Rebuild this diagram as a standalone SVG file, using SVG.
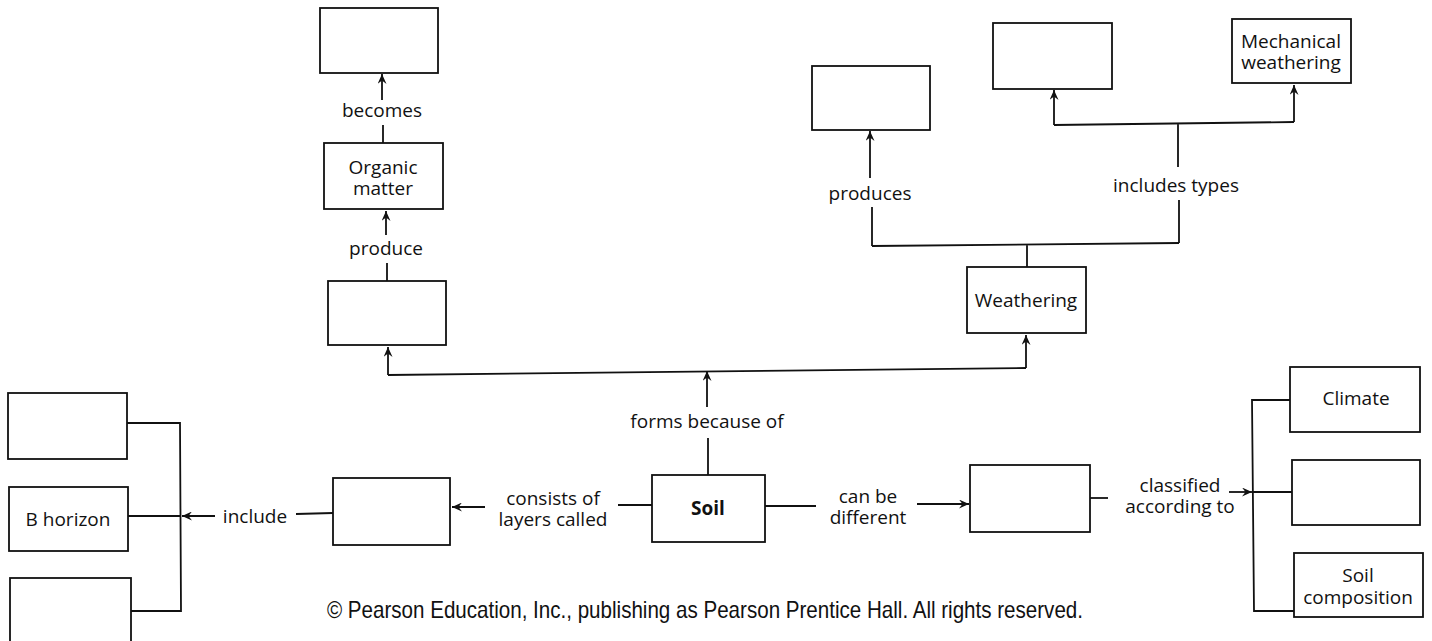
<svg xmlns="http://www.w3.org/2000/svg" width="1432" height="641" viewBox="0 0 1432 641">
<style>
.box{fill:#fff;stroke:#111;stroke-width:1.8}
.ln{fill:none;stroke:#111;stroke-width:1.8}
.ar{fill:none;stroke:#111;stroke-width:1.8;marker-end:url(#ah)}
text{font-family:"Open Sans","Noto Sans","DejaVu Sans",sans-serif;font-size:19px;fill:#111;text-anchor:middle}
.b{font-weight:bold}
.cp{font-family:"Liberation Sans",Arial,sans-serif;font-size:24px}
</style>
<defs>
<marker id="ah" markerUnits="userSpaceOnUse" markerWidth="11" markerHeight="9" refX="10" refY="4.5" orient="auto" viewBox="0 0 11 9">
<path d="M0,0 L10,4.5 L0,9 L3.5,4.5 Z" fill="#111"/>
</marker>
</defs>
<rect width="1432" height="641" fill="#fff"/>
<g id="connectors">
<path class="ln" d="M383,143 L383,125"/>
<path class="ar" d="M382,100 L382,74"/>
<path class="ln" d="M387,281 L387,263"/>
<path class="ar" d="M386,235 L386,211"/>
<path class="ln" d="M388,375 L1026,368"/>
<path class="ar" d="M388,375 L388,347"/>
<path class="ar" d="M1026,368 L1026,335"/>
<path class="ar" d="M707,407 L707,371"/>
<path class="ln" d="M708,438 L708,475"/>
<path class="ln" d="M1027,267 L1027,245 M872,246 L1179,243"/>
<path class="ln" d="M872,246 L872,207"/>
<path class="ar" d="M870,178 L870,131"/>
<path class="ln" d="M1179,243 L1179,200"/>
<path class="ln" d="M1178,167 L1178,124 M1054,125 L1294,122"/>
<path class="ar" d="M1054,125 L1054,90"/>
<path class="ar" d="M1294,122 L1294,85"/>
<path class="ln" d="M652,505 L618,505"/>
<path class="ar" d="M485,507 L452,507"/>
<path class="ln" d="M333,513 L296,514"/>
<path class="ar" d="M215,516 L182,516"/>
<path class="ln" d="M127,423 L180,423 L181,611 L131,611 M128,516 L181,516"/>
<path class="ln" d="M765,506 L816,506"/>
<path class="ar" d="M917,504 L969,504"/>
<path class="ln" d="M1090,498 L1108,498"/>
<path class="ar" d="M1229,492 L1252,492"/>
<path class="ln" d="M1290,400 L1252,400 L1254,611 L1294,611 M1252,492 L1292,492"/>
</g>
<g id="labels">
<text x="382" y="117">becomes</text>
<text x="386" y="255">produce</text>
<text x="707" y="428">forms because of</text>
<text x="870" y="200">produces</text>
<text x="1176" y="192">includes types</text>
<text x="553" y="505">consists of<tspan x="553" dy="21">layers called</tspan></text>
<text x="255" y="523">include</text>
<text x="868" y="503">can be<tspan x="868" dy="21">different</tspan></text>
<text x="1180" y="492">classified<tspan x="1180" dy="21">according to</tspan></text>
</g>
<g id="n_top_left"><rect class="box" x="320" y="8" width="118" height="65"/></g>
<g id="n_organic"><rect class="box" x="324" y="143" width="119" height="66"/><text x="383" y="174">Organic<tspan x="383" dy="21">matter</tspan></text></g>
<g id="n_source"><rect class="box" x="328" y="281" width="118" height="64"/></g>
<g id="n_weathering"><rect class="box" x="967" y="267" width="119" height="66"/><text x="1026" y="307">Weathering</text></g>
<g id="n_product"><rect class="box" x="812" y="66" width="118" height="64"/></g>
<g id="n_type1"><rect class="box" x="993" y="23" width="119" height="66"/></g>
<g id="n_mech"><rect class="box" x="1232" y="19" width="119" height="64"/><text x="1291" y="48">Mechanical<tspan x="1291" dy="21">weathering</tspan></text></g>
<g id="n_soil"><rect class="box" x="652" y="475" width="113" height="67"/><text class="b" x="708" y="515">Soil</text></g>
<g id="n_layers"><rect class="box" x="333" y="478" width="117" height="67"/></g>
<g id="n_hz1"><rect class="box" x="8" y="393" width="119" height="66"/></g>
<g id="n_bhz"><rect class="box" x="9" y="487" width="119" height="64"/><text x="68" y="526">B horizon</text></g>
<g id="n_hz3"><rect class="box" x="10" y="578" width="121" height="72"/></g>
<g id="n_diff"><rect class="box" x="970" y="465" width="120" height="67"/></g>
<g id="n_climate"><rect class="box" x="1290" y="367" width="130" height="65"/><text x="1356" y="405">Climate</text></g>
<g id="n_factor2"><rect class="box" x="1292" y="460" width="128" height="65"/></g>
<g id="n_soilcomp"><rect class="box" x="1294" y="553" width="129" height="64"/><text x="1358" y="582">Soil<tspan x="1358" dy="22">composition</tspan></text></g>
<text class="cp" x="705" y="618" textLength="756" lengthAdjust="spacingAndGlyphs">© Pearson Education, Inc., publishing as Pearson Prentice Hall. All rights reserved.</text>
</svg>
